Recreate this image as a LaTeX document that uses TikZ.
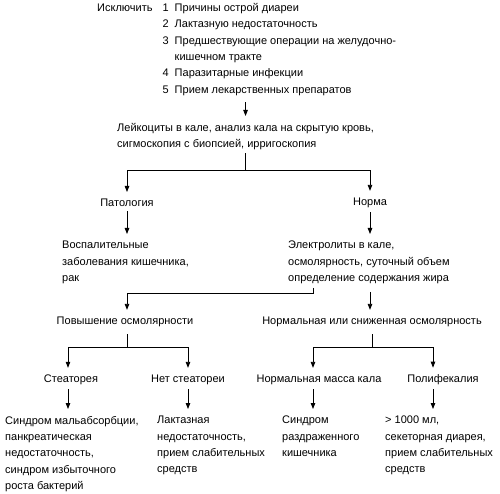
\documentclass[tikz,border=0pt]{standalone}
\usepackage{fontspec}
\setmainfont{Liberation Sans}
\usetikzlibrary{positioning,arrows.meta}

\begin{document}
\begin{tikzpicture}[x=1pt, y=-1pt,
  >={Triangle[length=6pt,width=4.5pt]},
  txt/.style={font=\fontsize{11}{16.3}\selectfont, inner sep=0pt, align=left},
  ctr/.style={txt, align=center},
  ln/.style={line width=.8pt},
  ar/.style={->, line width=.8pt, shorten <=4pt, shorten >=7pt}]
  \useasboundingbox (0,0) rectangle (500,494);

  % --- exclusion list ----------------------------------------------------
  \node[txt, anchor=north west] (list) at (97,0)
    {\begin{tabular}{@{}l@{\hspace{10pt}}l@{\hspace{6pt}}l@{}}
      Исключить & 1 & Причины острой диареи\\
                & 2 & Лактазную недостаточность\\
                & 3 & Предшествующие операции на желудочно-\\
                &   & кишечном тракте\\
                & 4 & Паразитарные инфекции\\
                & 5 & Прием лекарственных препаратов
     \end{tabular}};

  % --- screening ---------------------------------------------------------
  \node[txt, anchor=north west] (leuk) at (117,123)
    {Лейкоциты в кале, анализ кала на скрытую кровь,\\
     сигмоскопия с биопсией, ирригоскопия};

  % --- first split -------------------------------------------------------
  \node[ctr] (pat)  at (127,203) {Патология};
  \node[ctr] (norm) at (370,203) {Норма};
  \node[txt, anchor=north west] (infl) at (62,241)
    {Воспалительные\\заболевания кишечника,\\рак};
  \node[txt, anchor=north west] (elec) at (288,241)
    {Электролиты в кале,\\осмолярность, суточный объем\\определение содержания жира};

  % --- osmolarity --------------------------------------------------------
  \node[ctr] (incr) at (125,322) {Повышение осмолярности};
  \node[ctr] (nlow) at (372,322) {Нормальная или сниженная осмолярность};

  % --- fat and mass ------------------------------------------------------
  \node[ctr] (stea)  at (71,380)  {Стеаторея};
  \node[ctr] (nost)  at (188,380) {Нет стеатореи};
  \node[ctr] (nmass) at (319,380) {Нормальная масса кала};
  \node[ctr] (poly)  at (443,380) {Полифекалия};

  % --- diagnoses ---------------------------------------------------------
  \node[txt, anchor=north west] (malab) at (5,416)
    {Синдром мальабсорбции,\\панкреатическая\\недостаточность,\\синдром избыточного\\роста бактерий};
  \node[txt, anchor=north west] (lact) at (157,416)
    {Лактазная\\недостаточность,\\прием слабительных\\средств};
  \node[txt, anchor=north west] (ibs) at (282,416)
    {Синдром\\раздраженного\\кишечника};
  \node[txt, anchor=north west] (hyper) at (385,416)
    {> 1000 мл,\\секеторная диарея,\\прием слабительных\\средств};

  % --- junctions ---------------------------------------------------------
  \coordinate (j1) at (248,170);
  \coordinate (j2) at (127,293);
  \coordinate (j3) at (127,347);
  \coordinate (j4) at (372,347);

  % --- edges -------------------------------------------------------------
  \draw[ar] (list.south -| leuk.north) -- (leuk.north);
  \draw[ln, shorten <=3pt] (leuk.south) -- (leuk.south |- j1);
  \draw[ar, shorten <=0pt] (leuk.south |- j1) -| (pat);
  \draw[ar, shorten <=0pt] (leuk.south |- j1) -| (norm);
  \draw[ar] (pat) -- (pat |- infl.north);
  \draw[ar] (norm) -- (norm |- elec.north);
  \draw[ar] ([xshift=25pt]elec.south west) |- (j2) -- (incr.north -| j2);
  \draw[ar, shorten <=8pt] (elec.south -| norm) -- (nlow.north -| norm);

  \draw[ln, shorten <=7pt] (j3 |- incr.south) -- (j3);
  \draw[ar, shorten <=0pt] (j3) -| ([xshift=-3pt]stea.north);
  \draw[ar, shorten <=0pt] (j3) -| (nost);
  \draw[ln, shorten <=7pt] (j4 |- nlow.south) -- (j4);
  \draw[ar, shorten <=0pt] (j4) -| ([xshift=-6pt]nmass.north);
  \draw[ar, shorten <=0pt] (j4) -| ([xshift=-10pt]poly.north);

  \draw[ar] ([xshift=-3pt]stea.south) -- ([xshift=-3pt]stea.south |- malab.north);
  \draw[ar] (nost) -- (nost |- lact.north);
  \draw[ar] ([xshift=-6pt]nmass.south) -- ([xshift=-6pt]nmass.south |- ibs.north);
  \draw[ar] ([xshift=-10pt]poly.south) -- ([xshift=-10pt]poly.south |- hyper.north);
\end{tikzpicture}
\end{document}
